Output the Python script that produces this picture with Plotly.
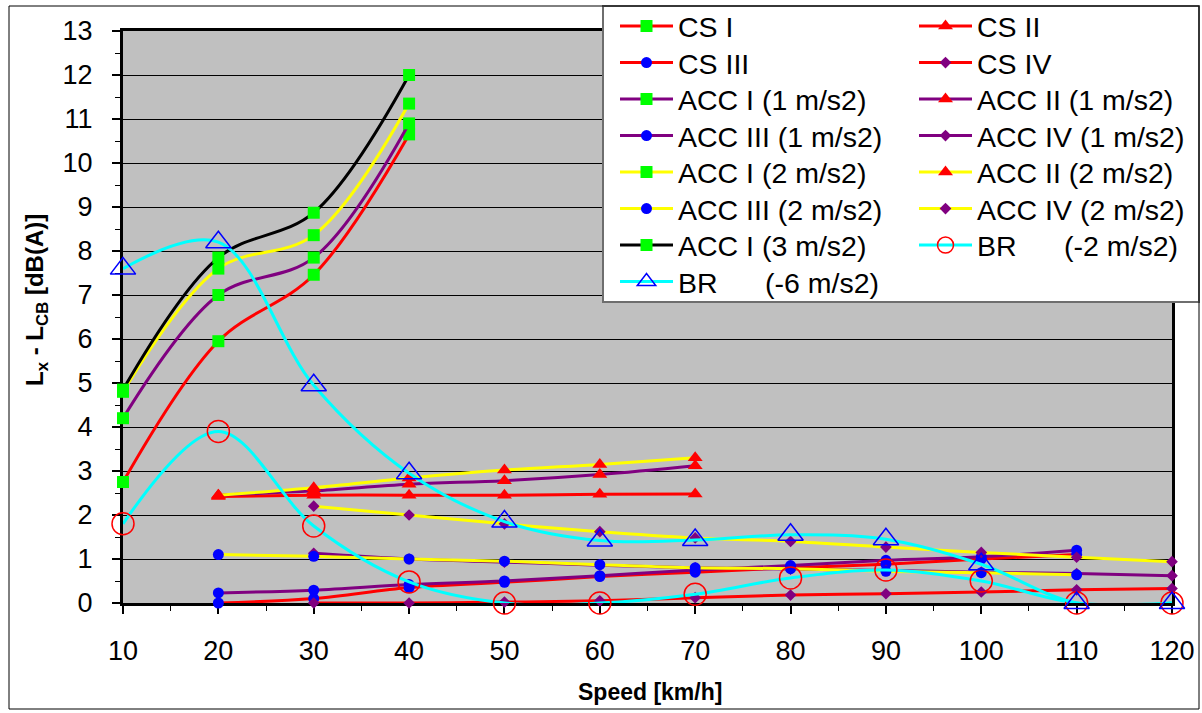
import plotly.graph_objects as go

# ---------------- data ----------------
speed_acc1 = [10, 20, 30, 40]
speed_acc2 = [20, 30, 40, 50, 60, 70]
speed_acc3 = [20, 30, 40, 50, 60, 70, 80, 90, 100, 110]
speed_acc4 = [30, 40, 50, 60, 70, 80, 90, 100, 110, 120]
speed_br = [10, 20, 30, 40, 50, 60, 70, 80, 90, 100, 110, 120]

cs_1 = [2.75, 5.95, 7.46, 10.65]
cs_2 = [2.42, 2.45, 2.45, 2.45, 2.47, 2.48]
cs_3 = [0.0, 0.1, 0.35, 0.47, 0.6, 0.7, 0.8, 0.88, 1.0, 1.1]
cs_4 = [0.0, 0.0, 0.02, 0.05, 0.12, 0.18, 0.21, 0.25, 0.3, 0.33]

acc1_1 = [4.2, 7.0, 7.85, 10.9]
acc2_1 = [2.45, 2.55, 2.7, 2.78, 2.92, 3.12]
acc3_1 = [0.23, 0.29, 0.42, 0.5, 0.62, 0.75, 0.85, 0.97, 1.05, 1.2]
acc4_1 = [1.13, 1.0, 0.93, 0.86, 0.8, 0.77, 0.74, 0.7, 0.67, 0.62]

acc1_2 = [4.8, 7.6, 8.36, 11.35]
acc2_2 = [2.45, 2.62, 2.84, 3.02, 3.15, 3.3]
acc3_2 = [1.1, 1.06, 1.0, 0.95, 0.87, 0.8, 0.78, 0.72, 0.69, 0.64]
acc4_2 = [2.2, 2.0, 1.8, 1.62, 1.48, 1.4, 1.27, 1.15, 1.04, 0.94]

acc1_3 = [4.85, 7.85, 8.87, 12.0]

br_2 = [1.8, 3.9, 1.75, 0.48, 0.0, 0.0, 0.2, 0.57, 0.75, 0.5, 0.0, 0.0]
br_6 = [7.6, 8.2, 4.95, 2.95, 1.85, 1.42, 1.43, 1.55, 1.45, 0.88, 0.0, 0.0]

y_ticks = list(range(0, 14))
x_ticks = list(range(10, 130, 10))

NB = "\u00a0"
names = {
    "cs1": "CS I", "cs2": "CS II", "cs3": "CS III", "cs4": "CS IV",
    "a11": "ACC I (1 m/s2)", "a21": "ACC II (1 m/s2)",
    "a31": "ACC III (1 m/s2)", "a41": "ACC IV (1 m/s2)",
    "a12": "ACC I (2 m/s2)", "a22": "ACC II (2 m/s2)",
    "a32": "ACC III (2 m/s2)", "a42": "ACC IV (2 m/s2)",
    "a13": "ACC I (3 m/s2)",
    "br2": "BR" + NB * 6 + "(-2 m/s2)",
    "br6": "BR" + NB * 6 + "(-6 m/s2)",
}

# ---------------- styles ----------------
RED, PURPLE, YELLOW, BLACK, CYAN = "#FF0000", "#800080", "#FFFF00", "#000000", "#00FFFF"
SQ = dict(symbol="square", size=12, color="#00FF00")
TRI = dict(symbol="triangle-up", size=13, color="#FF0000")
CIR = dict(symbol="circle", size=11, color="#0000FF")
DIA = dict(symbol="diamond", size=9, color="#800080")
OCIR = dict(symbol="circle-open", size=22, color="#FF0000", line=dict(width=1.5))
OTRI = dict(symbol="triangle-up-open", size=22, color="#0000FF", line=dict(width=1.5))

# order = Excel series order (also the legend's row-major order)
series = [
    ("cs1", speed_acc1, cs_1, RED, SQ),
    ("cs2", speed_acc2, cs_2, RED, TRI),
    ("cs3", speed_acc3, cs_3, RED, CIR),
    ("cs4", speed_acc4, cs_4, RED, DIA),
    ("a11", speed_acc1, acc1_1, PURPLE, SQ),
    ("a21", speed_acc2, acc2_1, PURPLE, TRI),
    ("a31", speed_acc3, acc3_1, PURPLE, CIR),
    ("a41", speed_acc4, acc4_1, PURPLE, DIA),
    ("a12", speed_acc1, acc1_2, YELLOW, SQ),
    ("a22", speed_acc2, acc2_2, YELLOW, TRI),
    ("a32", speed_acc3, acc3_2, YELLOW, CIR),
    ("a42", speed_acc4, acc4_2, YELLOW, DIA),
    ("a13", speed_acc1, acc1_3, BLACK, SQ),
    ("br2", speed_br, br_2, CYAN, OCIR),
    ("br6", speed_br, br_6, CYAN, OTRI),
]

# ---------------- layout geometry ----------------
W, H = 1202, 713
ML, MR, MT, MB = 123, 30, 31, 110
PW, PH = W - ML - MR, H - MT - MB


def px_x(p):
    return (p - ML) / PW


def px_y(p):
    return (H - MB - p) / PH


FONT = "Liberation Sans, Arial, sans-serif"
LEG_FONT = 28.5
COL_X = [615, 914]      # legend column origins (px)
ROW0, ROW_STEP = 27.3, 36.5  # legend row centres (px)
LEG_OFF = 26.3          # legend top -> first item centre (px)

fig = go.Figure()
legends = {}
for k, (key, xs, ys, lc, mk) in enumerate(series):
    lname = "legend" if k == 0 else "legend%d" % (k + 1)
    fig.add_trace(go.Scatter(
        x=xs, y=ys, name=names[key], mode="lines+markers",
        line=dict(color=lc, width=3, shape="spline", smoothing=1),
        marker=mk, cliponaxis=False, legend=lname,
    ))
    row, col = k // 2, k % 2
    legends[lname] = dict(
        x=px_x(COL_X[col]), y=px_y(ROW0 + row * ROW_STEP - LEG_OFF),
        xanchor="left", yanchor="top", orientation="v",
        bgcolor="rgba(0,0,0,0)", borderwidth=0, itemwidth=53,
        font=dict(size=LEG_FONT, family=FONT),
    )

fig.update_layout(
    width=W, height=H,
    margin=dict(l=ML, r=MR, t=MT, b=MB, autoexpand=False),
    paper_bgcolor="white", plot_bgcolor="#C0C0C0",
    font=dict(family=FONT, color="black"),
    showlegend=True,
    xaxis=dict(range=[10, 120], tickmode="array", tickvals=x_ticks,
               ticks="outside", ticklen=8, tickwidth=1.5, tickcolor="black",
               showline=True, linewidth=3, linecolor="black", mirror=True,
               showgrid=False, zeroline=False, layer="below traces",
               tickfont=dict(size=27, family=FONT), ticklabelstandoff=14,
               minor=dict(dtick=5, tick0=5, ticks="outside", ticklen=5,
                          tickwidth=1, tickcolor="black", showgrid=False)),
    yaxis=dict(range=[0, 13], tickmode="array", tickvals=y_ticks,
               ticks="outside", ticklen=8, tickwidth=1.5, tickcolor="black",
               showline=True, linewidth=3, linecolor="black", mirror=True,
               showgrid=True, gridcolor="black", gridwidth=1,
               zeroline=False, layer="below traces",
               tickfont=dict(size=27, family=FONT), ticklabelstandoff=14,
               minor=dict(dtick=0.5, tick0=0, ticks="outside", ticklen=5,
                          tickwidth=1, tickcolor="black", showgrid=False)),
    shapes=[
        dict(type="rect", xref="paper", yref="paper", layer="above",
             x0=px_x(603), x1=px_x(1199), y0=px_y(302), y1=px_y(6),
             fillcolor="white", line=dict(color="#6E6E6E", width=2)),
        dict(type="rect", xref="paper", yref="paper", layer="above",
             x0=px_x(9), x1=px_x(1199), y0=px_y(709), y1=px_y(6),
             fillcolor="rgba(0,0,0,0)", line=dict(color="black", width=1)),
    ],
    annotations=[
        dict(text="<b>Speed [km/h]</b>", xref="paper", yref="paper",
             x=px_x(650), y=px_y(692), xanchor="center", yanchor="middle",
             showarrow=False, font=dict(size=23, family=FONT)),
        dict(text="<b>L<sub>x</sub> - L<sub>CB</sub> [dB(A)]</b>",
             xref="paper", yref="paper", textangle=-90,
             x=px_x(36), y=px_y(300), xanchor="center", yanchor="middle",
             showarrow=False, font=dict(size=24, family=FONT)),
    ],
)
fig.update_layout(**legends)

fig.write_html("out.html")
